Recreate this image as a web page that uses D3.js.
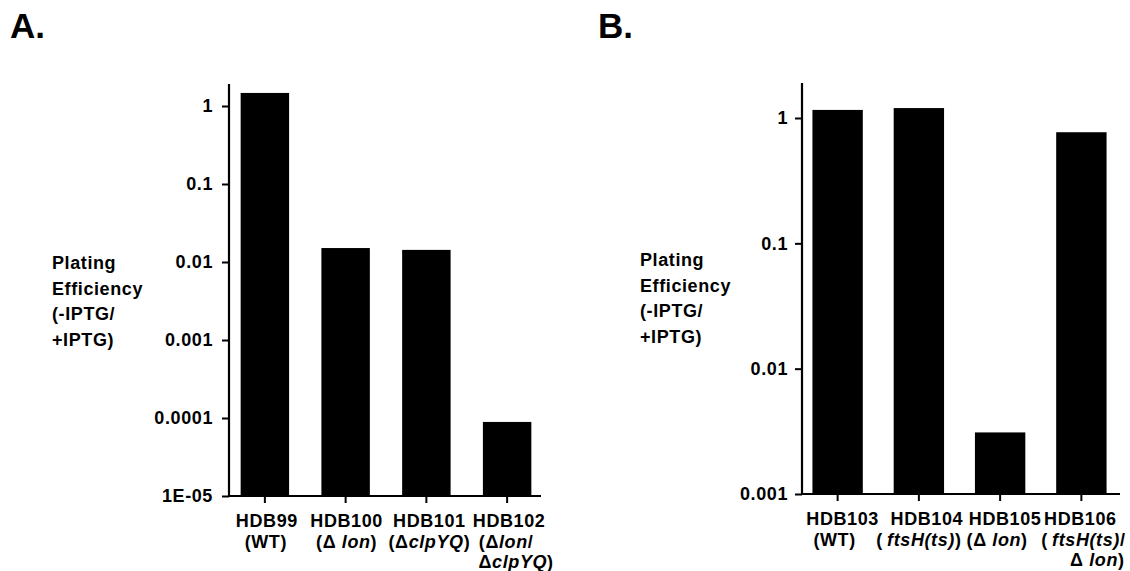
<!DOCTYPE html>
<html><head><meta charset="utf-8">
<script src="https://cdn.jsdelivr.net/npm/d3@7/dist/d3.min.js"></script>
<style>
html,body{margin:0;padding:0;background:#fff;}
svg text{font-family:"Liberation Sans",Arial,Helvetica,sans-serif;font-weight:bold;fill:#000;}
</style></head>
<body><svg id="c" width="1130" height="571"></svg>
<script>
// ---- data ----
const categoriesA = ["HDB99","HDB100","HDB101","HDB102"];
const valuesA = [1.47, 0.0151, 0.0143, 0.000089];
const tickValuesA = [1, 0.1, 0.01, 0.001, 0.0001, 0.00001];
const tickLabelsA = ["1","0.1","0.01","0.001","0.0001","1E-05"];
const genotypeLinesA = [["(WT)"],["(Δ *lon*)"],["(Δ*clpYQ*)"],["(Δ*lon*/","Δ*clpYQ*)"]];

const categoriesB = ["HDB103","HDB104","HDB105","HDB106"];
const valuesB = [1.16, 1.20, 0.0031, 0.77];
const tickValuesB = [1, 0.1, 0.01, 0.001];
const tickLabelsB = ["1","0.1","0.01","0.001"];
const genotypeLinesB = [["(WT)"],["(\u2009*ftsH(ts)*)"],["(Δ *lon*)"],["(\u2009*ftsH(ts)*/","Δ *lon*)"]];

const yTitleLines = ["Plating","Efficiency","(-IPTG/","+IPTG)"];
const panelTitles = ["A.","B."];

// ---- layout ----
const svg = d3.select("#c");
const FS = 18, LS = "0.6px";

function addRich(textSel, str){
  const parts = str.split("*");
  parts.forEach((p,i)=>{
    if(!p) return;
    textSel.append("tspan").attr("font-style", i%2 ? "italic" : "normal").text(p);
  });
}

function panel(cfg){
  const g = svg.append("g");
  const x = d3.scaleBand().domain(cfg.cats).range(cfg.xRange).paddingInner(cfg.pi).paddingOuter(cfg.po);
  const y = d3.scaleLog().domain(cfg.yDomain).range(cfg.yRange);

  // bars
  g.selectAll("rect.bar").data(cfg.vals).join("rect")
    .attr("class","bar")
    .attr("x",(d,i)=>x(cfg.cats[i]))
    .attr("width",x.bandwidth())
    .attr("y",d=>y(d))
    .attr("height",d=>y(cfg.yDomain[0])-y(d))
    .attr("fill","#000");

  // y axis
  const ya = d3.axisLeft(y).tickValues(cfg.ticks)
    .tickFormat((d,i)=>cfg.tickLabels[i]).tickSize(7).tickPadding(cfg.tickPad);
  const yg = g.append("g").attr("transform",`translate(${cfg.axisX},0)`).call(ya);
  yg.select(".domain").remove();
  yg.selectAll(".tick line").attr("stroke","#000").attr("stroke-width",2);
  yg.selectAll(".tick text").attr("font-size",FS).attr("letter-spacing",LS)
    .attr("font-family",null).attr("fill","#000");
  g.append("line").attr("x1",cfg.axisX).attr("x2",cfg.axisX)
    .attr("y1",cfg.axisTop).attr("y2",y(cfg.yDomain[0])+1)
    .attr("stroke","#000").attr("stroke-width",2.2);

  // x axis
  const xa = d3.axisBottom(x).tickSize(7).tickFormat("");
  const baseY = y(cfg.yDomain[0]);
  const xg = g.append("g").attr("transform",`translate(0,${baseY})`).call(xa);
  xg.select(".domain").remove();
  xg.selectAll(".tick line").attr("stroke","#000").attr("stroke-width",2);
  g.append("line").attr("x1",cfg.axisX).attr("x2",cfg.xAxisEnd)
    .attr("y1",baseY).attr("y2",baseY).attr("stroke","#000").attr("stroke-width",2);

  // category labels
  cfg.cats.forEach((c,i)=>{
    const cx = x(c)+x.bandwidth()/2;
    const lines = [c].concat(cfg.geno[i]);
    lines.forEach((ln,j)=>{
      const t = g.append("text").attr("x",cx+cfg.dx[i][j]).attr("y",baseY+31+20.5*j)
        .attr("text-anchor","middle").attr("font-size",FS).attr("letter-spacing",LS);
      addRich(t, ln);
    });
  });

  // y title
  const yt = g.append("text").attr("font-size",FS).attr("letter-spacing",LS);
  yTitleLines.forEach((l,j)=>{
    yt.append("tspan").attr("x",cfg.titleX).attr("y",cfg.titleY+25.7*j).text(l);
  });

  // panel letter
  g.append("text").attr("x",cfg.letterX).attr("y",38).attr("font-size",35).text(cfg.letter);
}

panel({
  cats:categoriesA, vals:valuesA, ticks:tickValuesA, tickLabels:tickLabelsA, geno:genotypeLinesA,
  xRange:[224.5,547.5], pi:0.4, po:0.2, yDomain:[1e-5,1], yRange:[496,106],
  axisX:229, axisTop:84, xAxisEnd:541, tickPad:9,
  dx:[[2,1],[1,1],[3,3],[2,-1,9]],
  titleX:52, titleY:269, letter:panelTitles[0], letterX:10
});
panel({
  cats:categoriesB, vals:valuesB, ticks:tickValuesB, tickLabels:tickLabelsB, geno:genotypeLinesB,
  xRange:[797,1122], pi:0.38, po:0.19, yDomain:[1e-3,1], yRange:[494,118],
  axisX:802, axisTop:83, xAxisEnd:1120, tickPad:7,
  dx:[[5,-3],[8,0],[5,-3],[-1,2,16]],
  titleX:640, titleY:266, letter:panelTitles[1], letterX:598
});
</script></body></html>
